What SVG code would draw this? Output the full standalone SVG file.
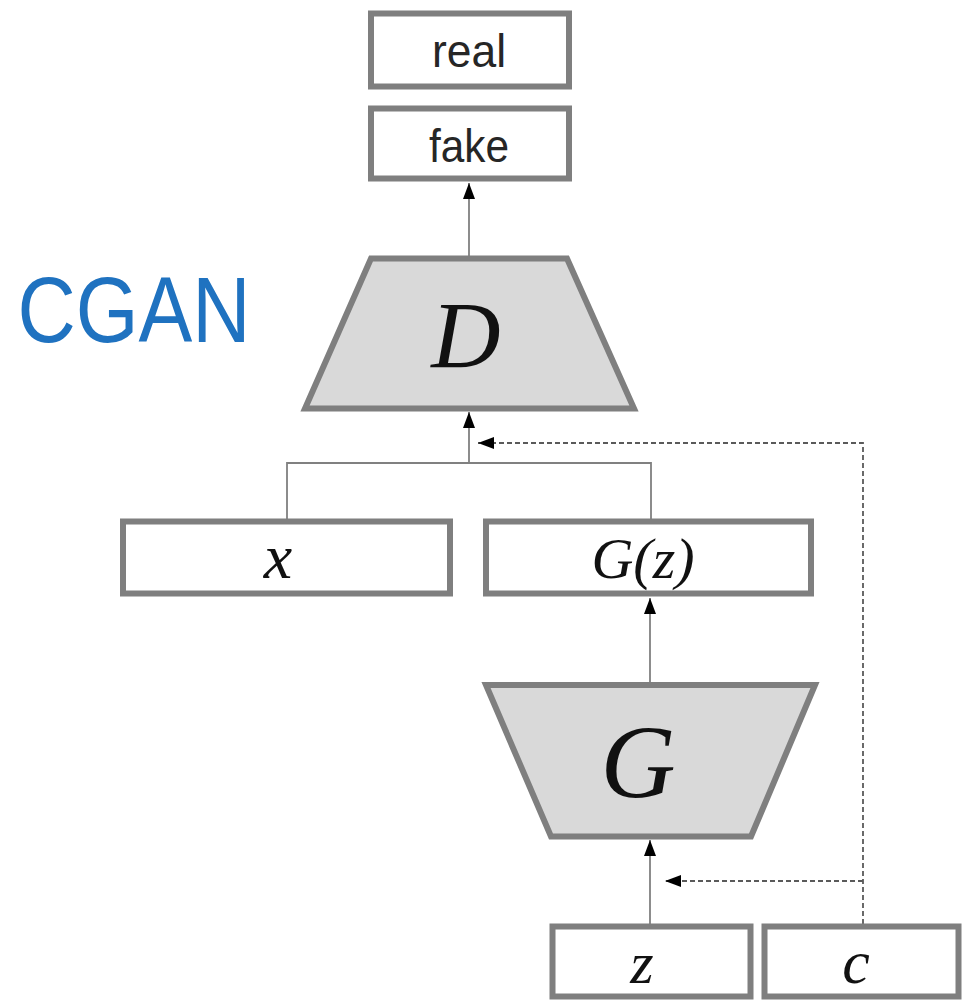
<svg xmlns="http://www.w3.org/2000/svg" width="963" height="1004" viewBox="0 0 963 1004">
<defs>
<style>
.box{fill:#ffffff;stroke:#7f7f7f;stroke-width:6}
.trap{fill:#d9d9d9;stroke:#7f7f7f;stroke-width:6;stroke-linejoin:miter}
.lbl{font-family:"Liberation Sans",Arial,sans-serif;font-size:46px;fill:#262626;text-anchor:middle}
.math{font-family:"Liberation Serif","Times New Roman",serif;font-style:italic;fill:#111111;text-anchor:middle}
.line{fill:none;stroke:#808080;stroke-width:1.8}
.dash{fill:none;stroke:#5a5a5a;stroke-width:1.8;stroke-dasharray:5 3}
</style>
<marker id="ah" viewBox="0 0 16 12" refX="16" refY="6" markerWidth="16" markerHeight="13" markerUnits="userSpaceOnUse" orient="auto">
<path d="M0,0 L16,6 L0,12 Z" fill="#000000"/>
</marker>
</defs>
<rect width="963" height="1004" fill="#ffffff"/>

<text x="134" y="342" font-family="'Liberation Sans',Arial,sans-serif" font-size="92" fill="#1f72c0" text-anchor="middle" textLength="233" lengthAdjust="spacingAndGlyphs">CGAN</text>

<g id="connectors">
<line class="line" x1="469" y1="256" x2="469" y2="183" marker-end="url(#ah)"/>
<line class="line" x1="469" y1="463" x2="469" y2="412" marker-end="url(#ah)"/>
<polyline class="line" points="287,519 287,463 651,463 651,519"/>
<polyline class="dash" points="863,924 863,443 478,443" marker-end="url(#ah)"/>
<line class="line" x1="650" y1="683" x2="650" y2="598" marker-end="url(#ah)"/>
<line class="line" x1="650" y1="924" x2="650" y2="840" marker-end="url(#ah)"/>
<line class="dash" x1="863" y1="881" x2="665" y2="881" marker-end="url(#ah)"/>
</g>

<g id="real">
<rect class="box" x="371" y="13.5" width="198" height="73"/>
<text class="lbl" x="469" y="67" textLength="74" lengthAdjust="spacingAndGlyphs">real</text>
</g>
<g id="fake">
<rect class="box" x="371" y="108.5" width="198" height="70"/>
<text class="lbl" x="469" y="162" textLength="80" lengthAdjust="spacingAndGlyphs">fake</text>
</g>
<g id="D">
<polygon class="trap" points="371,258.5 567,258.5 634,408.5 305,408.5"/>
<text class="math" x="466" y="368" font-size="96">D</text>
</g>
<g id="x">
<rect class="box" x="123" y="521.5" width="327" height="72"/>
<text class="math" x="278" y="578" font-size="64">x</text>
</g>
<g id="Gz">
<rect class="box" x="486" y="521.5" width="325" height="72"/>
<text class="math" x="643" y="578" font-size="58">G(z)</text>
</g>
<g id="G">
<polygon class="trap" points="486,685 815,685 751,836.5 551,836.5"/>
<text class="math" x="638" y="797" font-size="104">G</text>
</g>
<g id="z">
<rect class="box" x="552.5" y="926.5" width="198" height="70"/>
<text class="math" x="642" y="983" font-size="60">z</text>
</g>
<g id="c">
<rect class="box" x="764.5" y="926.5" width="194" height="70"/>
<text class="math" x="856" y="983" font-size="62">c</text>
</g>
</svg>
